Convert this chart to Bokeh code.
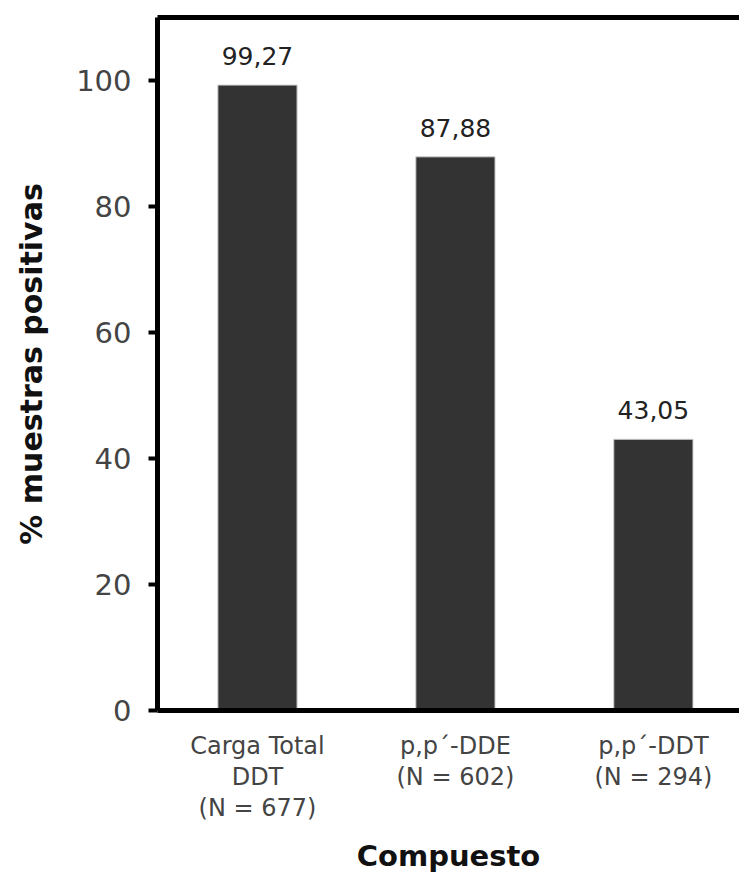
from bokeh.plotting import figure
from bokeh.models import Range1d, LinearAxis, FixedTicker, ColumnDataSource
from bokeh.core.properties import value
from bokeh.embed import file_html
from bokeh.resources import INLINE

categories = ["Carga Total\nDDT\n(N = 677)", "p,p´-DDE\n(N = 602)", "p,p´-DDT\n(N = 294)"]
values = [99.27, 87.88, 43.05]
y_ticks = [0, 20, 40, 60, 80, 100]

xs = list(range(len(categories)))
labels = [f"{v:.2f}".replace(".", ",") for v in values]
src = ColumnDataSource(dict(x=xs, top=values, label=labels))

FONT = "DejaVu Sans"

p = figure(width=739, height=886, output_backend="svg", toolbar_location=None,
           x_range=Range1d(-0.505, 2.435), y_range=Range1d(0, 110),
           min_border_left=157, min_border_right=0, min_border_top=17, min_border_bottom=176)
p.outline_line_color = None
p.grid.visible = False
p.background_fill_color = "white"

p.vbar(x="x", top="top", width=0.40, source=src, fill_color="#333333", line_color="#cccccc", line_width=1)
p.text(x="x", y="top", text="label", source=src, text_align="center", text_baseline="middle",
       y_offset=-29, text_font=value(FONT), text_font_size="25px", text_color="#222222")

# y axis
ya = p.yaxis[0]
ya.ticker = FixedTicker(ticks=y_ticks)
ya.axis_line_width = 5
ya.axis_line_color = "black"
ya.major_tick_line_width = 4
ya.major_tick_out = 9
ya.major_tick_in = 0
ya.minor_tick_out = 0
ya.minor_tick_in = 0
ya.major_label_standoff = 17
ya.major_label_text_font = FONT
ya.major_label_text_font_size = "29px"
ya.major_label_text_color = "#444444"
ya.axis_label = "% muestras positivas"
ya.axis_label_text_font = FONT
ya.axis_label_text_font_style = "bold"
ya.axis_label_text_font_size = "30px"
ya.axis_label_text_color = "#111111"
ya.axis_label_standoff = 24

# x axis
xa = p.xaxis[0]
xa.ticker = FixedTicker(ticks=xs)
xa.major_label_overrides = {i: c for i, c in zip(xs, categories)}
xa.axis_line_width = 5
xa.axis_line_color = "black"
xa.major_tick_out = 0
xa.major_tick_in = 0
xa.minor_tick_out = 0
xa.minor_tick_in = 0
xa.major_label_standoff = 21
xa.major_label_text_font = FONT
xa.major_label_text_font_size = "24px"
xa.major_label_text_color = "#444444"
xa.major_label_text_line_height = 1.11
xa.axis_label = "Compuesto"
xa.axis_label_text_font = FONT
xa.axis_label_text_font_style = "bold"
xa.axis_label_text_font_size = "29px"
xa.axis_label_text_color = "#111111"
xa.axis_label_standoff = 14

# top border
top = LinearAxis(ticker=FixedTicker(ticks=[]), major_label_text_font_size="0px",
                 axis_line_width=5, axis_line_color="black",
                 major_tick_out=0, minor_tick_out=0, major_tick_in=0, minor_tick_in=0)
p.add_layout(top, "above")

open("out.html", "w").write(file_html(p, INLINE))
